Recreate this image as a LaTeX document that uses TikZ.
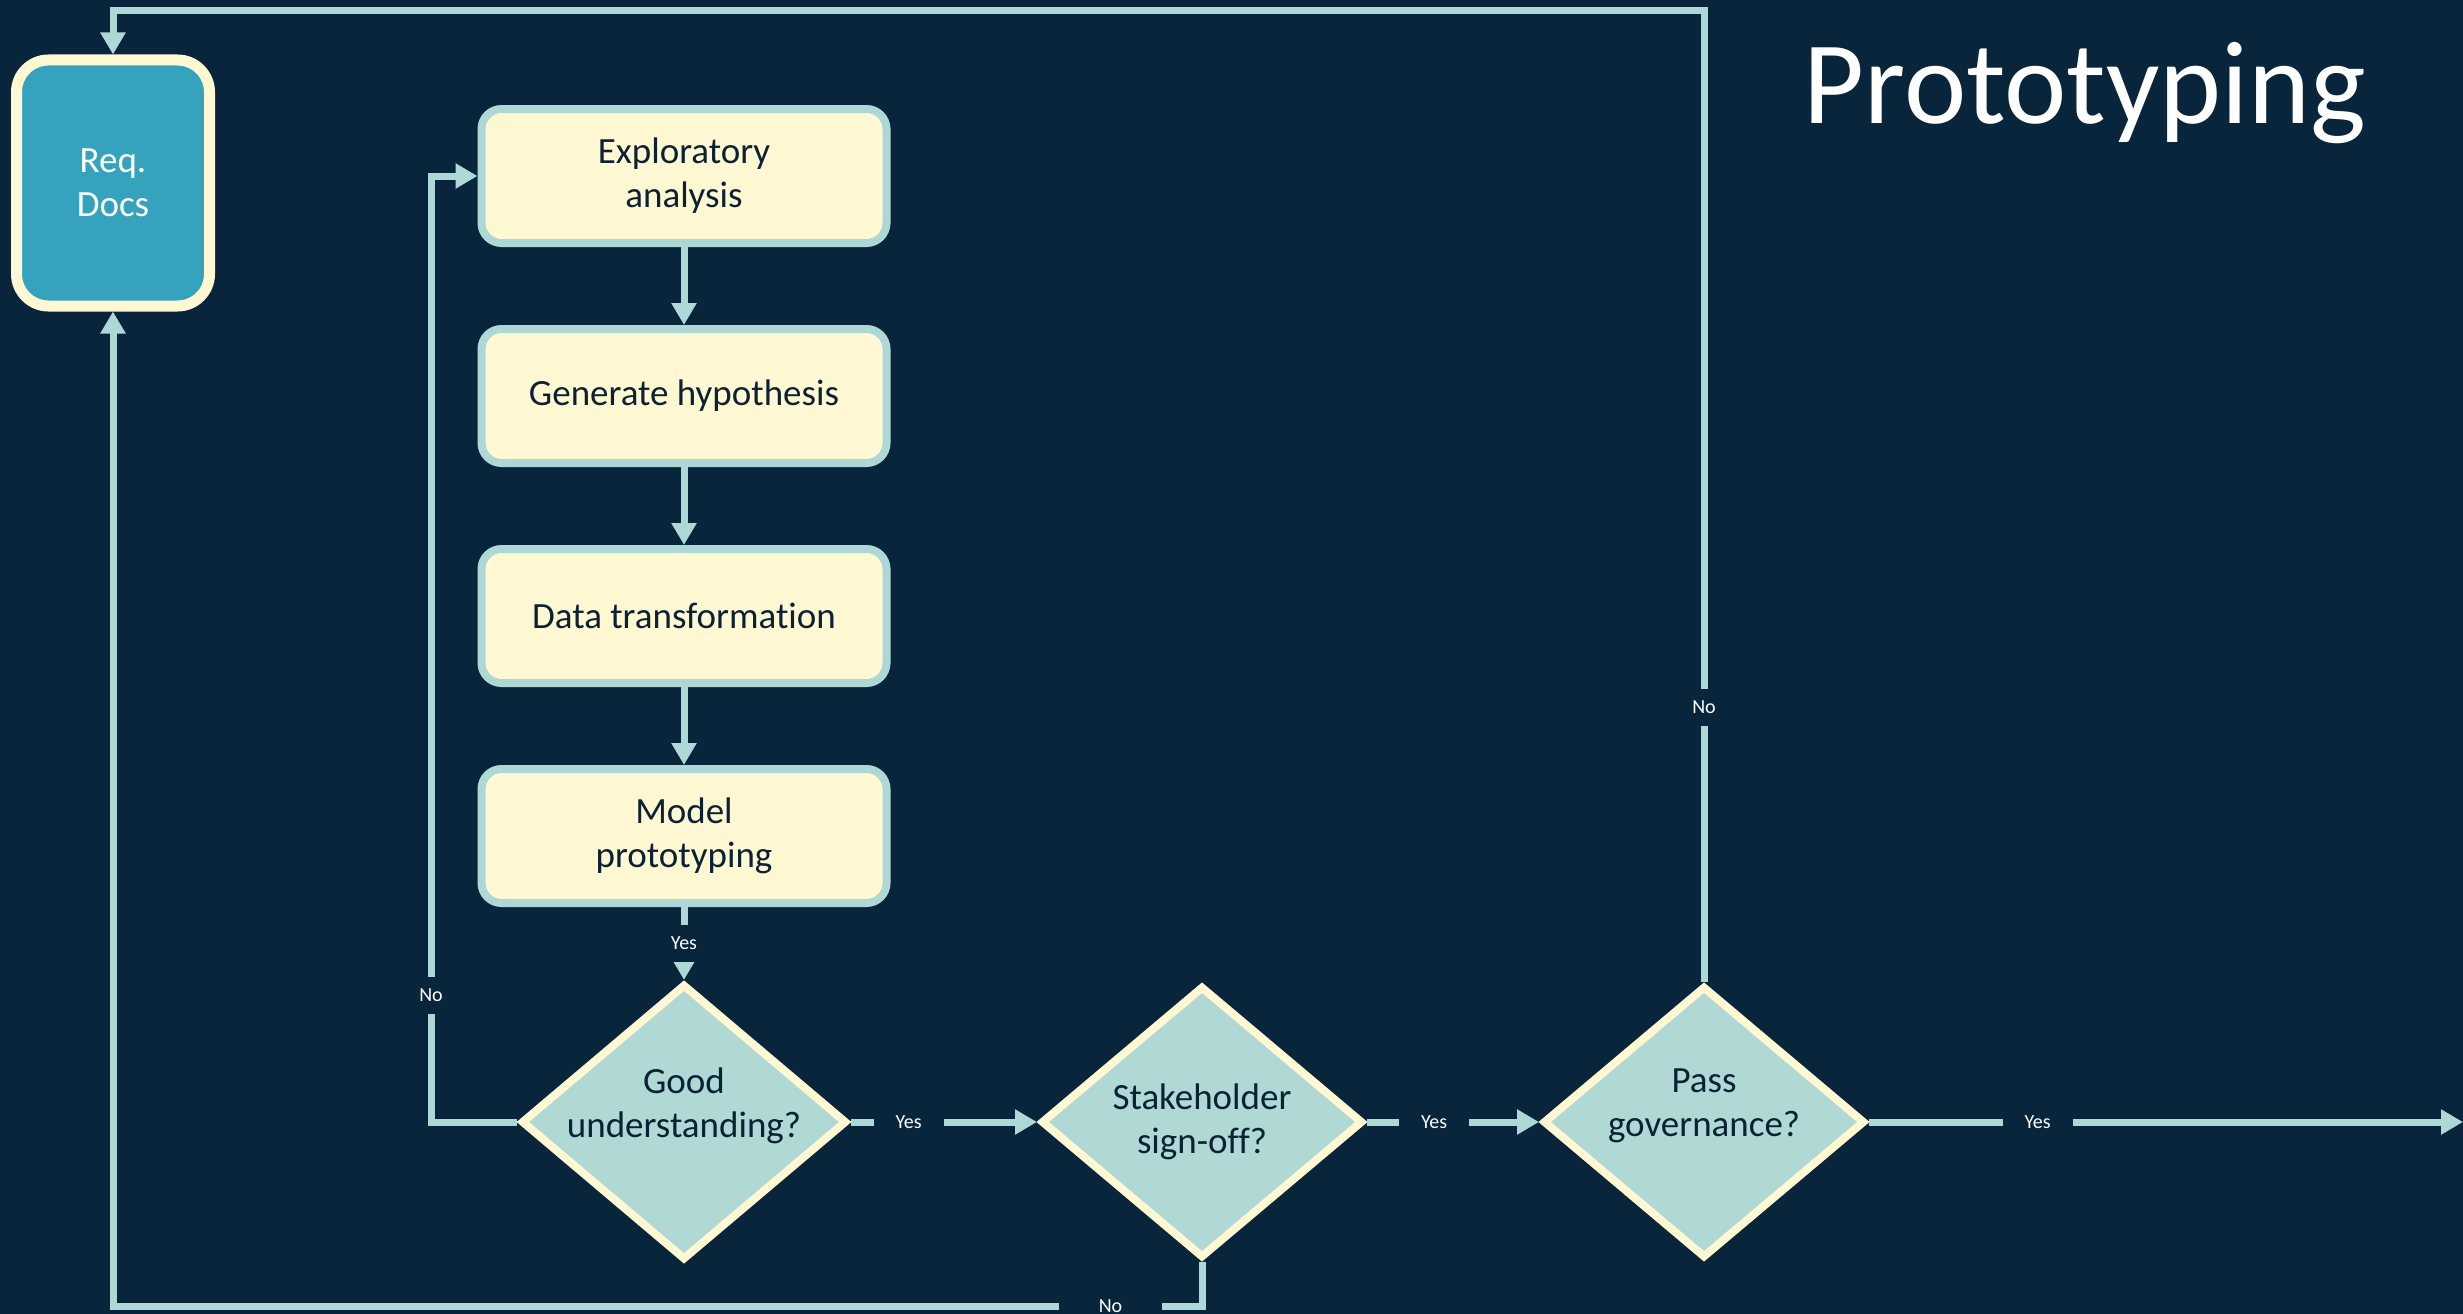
\documentclass[tikz,border=0pt]{standalone}
\usepackage{fontspec}
\setmainfont{Carlito}[Ligatures=NoCommon]
\usepackage{xcolor}
\usepackage{tikz}
\usetikzlibrary{arrows.meta,positioning,shapes.geometric}

\begin{document}
\begin{tikzpicture}[x=1pt, y=-1pt,
    every node/.style={font=\fontsize{37}{44}\selectfont, align=center},
    stepbox/.style={draw=linecol, line width=8pt, fill=boxcol, rounded corners=20pt,
        minimum width=405pt, minimum height=134pt, text=txtcol},
    docbox/.style={draw=boxcol, line width=11pt, fill=doccol, rounded corners=32pt,
        minimum width=193pt, minimum height=246pt, text=white},
    decision/.style={diamond, draw=boxcol, line width=8pt, fill=diacol, aspect=1.18,
        inner sep=0pt, minimum width=322pt, minimum height=272pt, text=txtcol},
    lifted/.style={text depth=38pt, inner ysep=-15pt},
    conn/.style={draw=linecol, line width=7pt, -{Triangle[width=24pt,length=22pt]}},
    lbl/.style={fill=bgcol, text=white, font=\fontsize{20}{24}\selectfont,
        inner xsep=22pt, inner ysep=12pt}]
    % Define colors
    \definecolor{bgcol}{RGB}{8,37,59}
    \definecolor{linecol}{RGB}{174,216,213}
    \definecolor{boxcol}{RGB}{255,248,210}
    \definecolor{doccol}{RGB}{54,163,190}
    \definecolor{diacol}{RGB}{176,217,213}
    \definecolor{txtcol}{RGB}{10,34,51}

    % Background
    \fill[bgcol] (0,0) rectangle (2463,1314);
    \useasboundingbox (0,0) rectangle (2463,1314);

    % Title
    \node[text=white, font=\fontsize{118}{130}\selectfont, anchor=base] (title) at (2085,123) {Prototyping};

    % Requirement docs
    \node[docbox] (req) at (113,183) {Req.\\Docs};

    % Steps
    \node[stepbox] (expl) at (684,176) {Exploratory\\analysis};
    \node[stepbox, below=78pt of expl] (hyp) {Generate hypothesis};
    \node[stepbox, below=78pt of hyp] (trans) {Data transformation};
    \node[stepbox, below=78pt of trans] (model) {Model\\prototyping};

    % Decisions
    \node[decision, lifted] (good) at (684,1122) {Good\\understanding?};
    \node[decision] (stake) at (1202,1122) {Stakeholder\\sign-off?};
    \node[decision, lifted] (pass) at (1704,1122) {Pass\\governance?};

    % Corner points
    \coordinate (lp) at (431,1122);
    \coordinate (ttop) at (1704,11);
    \coordinate (bbot) at (1202,1306);
    \coordinate (out) at (2463,1122);

    % Connectors
    \draw[conn] (expl) -- (hyp);
    \draw[conn] (hyp) -- (trans);
    \draw[conn] (trans) -- (model);
    \draw[conn] (model) -- node[lbl]{Yes} (good);
    \draw[conn] (good.east) -- node[lbl, pos=0.31]{Yes} (stake.west);
    \draw[conn] (stake.east) -- node[lbl, pos=0.39]{Yes} (pass.west);
    \draw[conn] (pass.east) -- node[lbl, pos=0.284]{Yes} (out);
    \draw[conn] (good.west) -- (lp) |- node[lbl, pos=0.067]{No} (expl.west);
    \draw[conn] (pass.north) -- node[lbl, pos=0.283]{No} (ttop) -| (req.north);
    \draw[conn] (stake.south) -- (bbot) -| node[lbl, pos=0.042, inner xsep=40pt]{No} (req.south);
\end{tikzpicture}
\end{document}
